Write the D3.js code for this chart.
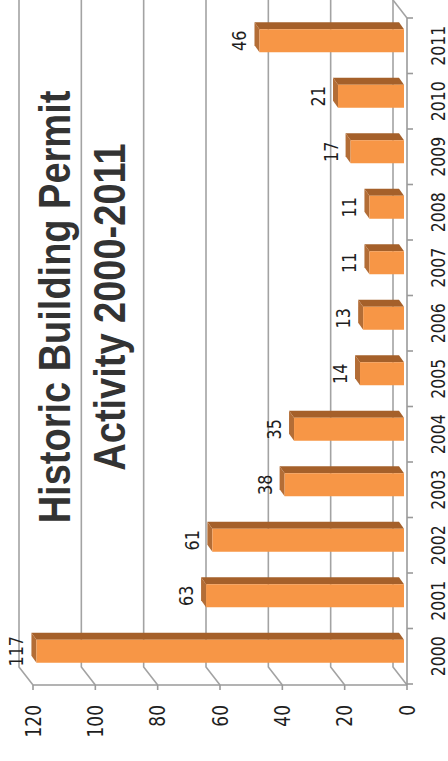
<!DOCTYPE html>
<html>
<head>
<meta charset="utf-8">
<script src="https://cdn.jsdelivr.net/npm/d3@7"></script>
<style>
  html, body { margin: 0; padding: 0; background: #fff; }
  svg { display: block; }
</style>
</head>
<body>
<div id="chart"></div>
<script>
// Historic building permits per year (chart is drawn turned a quarter left)
const YEARS = ['2000', '2001', '2002', '2003', '2004', '2005', '2006', '2007', '2008', '2009', '2010', '2011'];
const PERMITS = [117, 63, 61, 38, 35, 14, 13, 11, 11, 17, 21, 46];
const VALUE_TICKS = [0, 20, 40, 60, 80, 100, 120];
const TITLE_LINES = ['Historic Building Permit', 'Activity 2000-2011'];

const W = 448, H = 761;
const FRONT_COLOR = '#f79646', TOP_COLOR = '#a5602a', SIDE_COLOR = '#b36d36';
const GRID = '#a3a3a3';
const STRETCH = 1.22;           // glyphs are a bit wider across than along the text

const svg = d3.select('#chart').append('svg')
  .attr('width', W).attr('height', H).attr('viewBox', `0 0 ${W} ${H}`);

// value axis runs right-to-left along the bottom, categories bottom-to-top
const xFront = d3.scaleLinear().domain([0, 120]).range([407, 33]);
const xBar = d3.scaleLinear().domain([0, 120]).range([404, 27]);
const yBand = d3.scaleBand().domain(YEARS).range([684, 18]);
const baseY = 685, topY = 18;
const DX = -14, DY = -18;       // depth of the walls
const BDX = -5, BDY = -7;       // depth of a bar
const barH = 23, barShift = -5;

function rtext(x, y, txt, size, opts = {}) {
  return svg.append('text')
    .attr('transform', `translate(${x},${y}) rotate(-90) scale(1,${opts.stretch || STRETCH})`)
    .attr('text-anchor', opts.anchor || 'middle')
    .attr('font-family', opts.family || '"DejaVu Sans", Verdana, sans-serif')
    .attr('font-size', size)
    .attr('font-weight', opts.weight || 'normal')
    .attr('fill', opts.fill || '#1e1e1e')
    .text(txt);
}

// back wall gridlines + side wall diagonals
const grid = svg.append('g').attr('stroke', GRID).attr('stroke-width', 1.6).attr('fill', 'none');
VALUE_TICKS.forEach(v => {
  const xb = xFront(v) + DX;
  grid.append('path')
    .attr('d', `M${xb},${topY + DY - 2} L${xb},${baseY + DY} L${xFront(v)},${baseY}`);
});
// floor edge at the far end
grid.append('line')
  .attr('x1', xFront(0) + DX).attr('y1', topY + DY)
  .attr('x2', xFront(0)).attr('y2', topY);

// axes
const axes = svg.append('g').attr('stroke', '#9a9a9a').attr('stroke-width', 1.6);
axes.append('line').attr('x1', xFront(120)).attr('x2', xFront(0)).attr('y1', baseY).attr('y2', baseY);
axes.append('line').attr('x1', xFront(0)).attr('x2', xFront(0)).attr('y1', topY).attr('y2', baseY);
VALUE_TICKS.forEach(v => {
  axes.append('line').attr('x1', xFront(v)).attr('x2', xFront(v)).attr('y1', baseY).attr('y2', baseY + 5);
});
const catEdges = YEARS.map(y => yBand(y)).concat([yBand(YEARS[0]) + yBand.step()]);
catEdges.forEach(e => {
  axes.append('line').attr('x1', xFront(0)).attr('x2', xFront(0) + 6).attr('y1', e).attr('y2', e);
});

// title
TITLE_LINES.forEach((t, i) => {
  rtext(70 + i * 55, 307, t, 38, {
    family: '"Liberation Sans", Arial, sans-serif', weight: 'bold', fill: '#333', stretch: 1.19
  });
});

// bars
const bars = svg.append('g');
YEARS.forEach((yr, i) => {
  const v = PERMITS[i];
  const cy = yBand(yr) + yBand.bandwidth() / 2 + barShift;
  const yT = cy - barH / 2, yB = cy + barH / 2;
  const xL = xBar(v), x0 = xBar(0);
  bars.append('path').attr('fill', TOP_COLOR)
    .attr('d', `M${xL},${yT} L${x0},${yT} L${x0 + BDX},${yT + BDY} L${xL + BDX},${yT + BDY} Z`);
  bars.append('path').attr('fill', SIDE_COLOR)
    .attr('d', `M${xL},${yT} L${xL},${yB} L${xL + BDX},${yB + BDY} L${xL + BDX},${yT + BDY} Z`);
  bars.append('rect').attr('fill', FRONT_COLOR)
    .attr('x', xL).attr('y', yT).attr('width', x0 - xL).attr('height', barH);
  rtext(xL + BDX - 8, cy, String(v), 16);
});

// category labels
YEARS.forEach(yr => {
  rtext(445, yBand(yr) + yBand.bandwidth() / 2, yr, 15.7);
});

// value tick labels
VALUE_TICKS.forEach(v => {
  rtext(xFront(v) + 7.5, 705, String(v), 17, { anchor: 'end' });
});
</script>
</body>
</html>
